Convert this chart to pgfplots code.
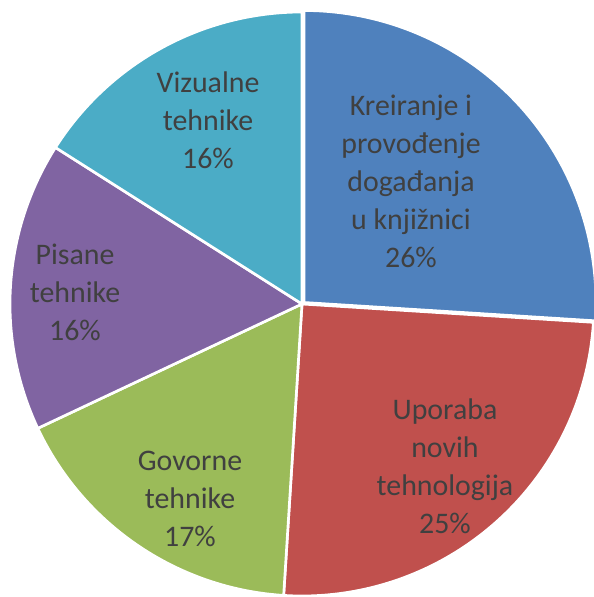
\documentclass[border=0pt]{standalone}
\usepackage{fontspec}
\setmainfont{Carlito}
\usepackage{pgfplots}
\pgfplotsset{compat=1.18}
\definecolor{cBlue}{HTML}{4F81BD}
\definecolor{cRed}{HTML}{C0504D}
\definecolor{cGreen}{HTML}{9BBB59}
\definecolor{cPurple}{HTML}{8064A2}
\definecolor{cAqua}{HTML}{4BACC6}
\definecolor{txt}{HTML}{404040}

% slice shares in percent, clockwise from 12 o'clock
\def\vA{26}\def\vB{25}\def\vC{17}\def\vD{16}\def\vE{16}
\pgfmathsetmacro\aA{90}
\pgfmathsetmacro\aB{\aA-3.6*\vA}
\pgfmathsetmacro\aC{\aB-3.6*\vB}
\pgfmathsetmacro\aD{\aC-3.6*\vC}
\pgfmathsetmacro\aE{\aD-3.6*\vD}
\pgfmathsetmacro\aF{\aE-3.6*\vE}

% #1 from angle, #2 to angle, #3 colour, #4/#5 centre (px)
\newcommand\slice[5]{%
  \addplot[fill=#3, draw=white, line width=2pt, domain=#1:#2, samples=120, variable=\t]
    ({#4+292*cos(t)},{#5+292*sin(t)}) -- (axis cs:#4,#5) -- cycle;
}

\begin{document}
\begin{tikzpicture}
\begin{axis}[
    scale only axis,
    width=445.5pt, height=447.75pt,
    xmin=0, xmax=594, ymin=-597, ymax=0,
    hide axis, clip=false,
]
\slice{\aB}{\aA}{cBlue}{304}{-302.5}
\slice{\aC}{\aB}{cRed}{302}{-304}
\slice{\aD}{\aC}{cGreen}{302}{-304}
\slice{\aE}{\aD}{cPurple}{302}{-304}
\slice{\aF}{\aE}{cAqua}{302}{-304}

\begin{scope}[every node/.style={align=center, text=txt,
    font=\fontsize{22.4pt}{28.5pt}\selectfont}]
\node at (axis cs:411,-181.5) {Kreiranje i\\provođenje\\događanja\\u knjižnici\\26\%};
\node at (axis cs:445,-466.5) {Uporaba\\novih\\tehnologija\\25\%};
\node at (axis cs:190,-498.5) {Govorne\\tehnike\\17\%};
\node at (axis cs:75,-292.5) {Pisane\\tehnike\\16\%};
\node at (axis cs:208,-120) {Vizualne\\tehnike\\16\%};
\end{scope}
\end{axis}
\pgfresetboundingbox
\useasboundingbox (current axis.south west) rectangle (current axis.north east);
\end{tikzpicture}
\end{document}
